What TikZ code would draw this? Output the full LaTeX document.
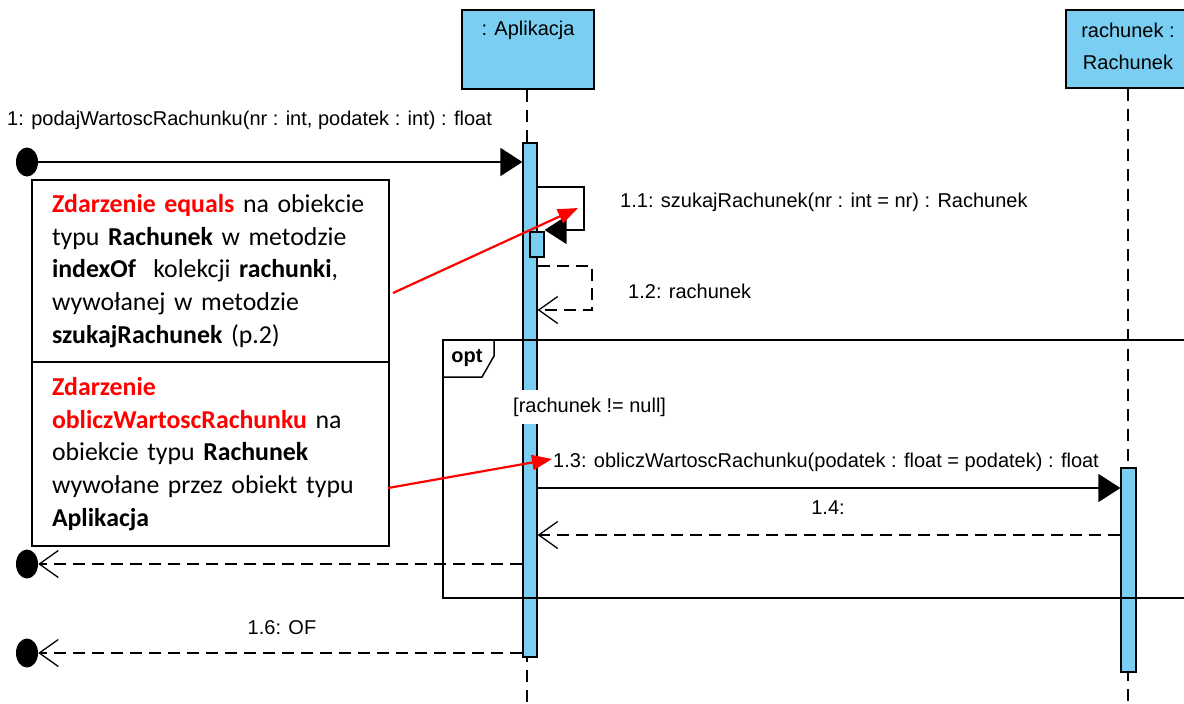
\documentclass[tikz,border=0pt]{standalone}
\usepackage{fontspec}
\setmainfont{Liberation Sans}
\newfontfamily\notefont{Carlito}
\usetikzlibrary{arrows.meta,shapes.geometric}
\definecolor{umlblue}{RGB}{122,206,242}
\definecolor{notered}{RGB}{255,0,0}
\begin{document}
\begin{tikzpicture}[x=1pt,y=-1pt,
  diag/.style={font=\fontsize{20}{24}\selectfont, inner sep=0pt},
  headbox/.style={draw, fill=umlblue, line width=1.5pt, inner sep=0pt},
  actbar/.style={draw, fill=umlblue, line width=1.2pt, inner sep=0pt, minimum width=14pt},
  lifeline/.style={line width=1.3pt, dash pattern=on 12pt off 8pt},
  callmsg/.style={line width=1.5pt, -{Triangle[length=22pt,width=28pt]}},
  retmsg/.style={line width=1.5pt, dash pattern=on 12pt off 7pt, -{Straight Barb[length=19pt,width=27pt,line width=1.3pt]}},
  endpoint/.style={ellipse, fill=black, minimum width=22pt, minimum height=29pt, inner sep=0pt},
  notebox/.style={draw, line width=1.5pt, minimum width=357pt, text width=317pt, align=left, inner xsep=20pt, inner ysep=0pt,
    font=\notefont\fontsize{25.8}{32.6}\selectfont},
  redarrow/.style={draw=notered, line width=2.2pt, -{Triangle[length=20pt,width=15pt]}, color=notered},
  frameline/.style={line width=1.5pt}
]
\useasboundingbox (0,0) rectangle (1184,704);
\clip (0,0) rectangle (1184,704);

% heads
\node (apphead) [headbox, minimum width=132pt, minimum height=79pt] at (528,49.5) {};
\node (apptext) [diag] at (528,30) {: Aplikacja};
\node (rachead) [headbox, minimum width=124pt, minimum height=78pt] at (1128,49) {};
\node (ractext) [diag, align=center, font=\fontsize{20}{32}\selectfont] at (1128,46) {rachunek :\\Rachunek};

% lifelines
\coordinate (append) at (527,704);
\coordinate (racend) at (1128,704);
\draw[lifeline] (apphead.south -| append) -- (append);
\draw[lifeline] (rachead.south -| racend) -- (racend);

% activation bars
\node (appbar) [actbar, minimum height=514pt] at (530,400) {};
\node (nestbar) [actbar, minimum height=25pt] at (537,244.5) {};
\node (racbar) [actbar, minimum width=15pt, minimum height=204pt] at (1128.5,570) {};

% endpoints
\node (c1) [endpoint] at (27,162) {};
\node (c2) [endpoint] at (27,564) {};
\node (c3) [endpoint] at (27,653) {};

% message 1
\draw[callmsg] (c1.east) -- (appbar.west |- c1);
\node (l1) [diag, anchor=west] at (7,120) {1: podajWartoscRachunku(nr : int, podatek : int) : float};

% self call 1.1
\coordinate (s11a) at (584,187);
\coordinate (s11b) at (584,230);
\draw[callmsg] (appbar.east |- s11a) -- (s11a) -- (s11b) -- (nestbar.east |- s11b);
\node (l11) [diag, anchor=west] at (620,202) {1.1: szukajRachunek(nr : int = nr) : Rachunek};

% self return 1.2
\coordinate (s12a) at (592,266);
\coordinate (s12b) at (592,310);
\draw[retmsg] (appbar.east |- s12a) -- (s12a) -- (s12b) -- (appbar.east |- s12b);
\node (l12) [diag, anchor=west] at (628,291) {1.2: rachunek};

% message 1.3
\coordinate (m13) at (800,488);
\draw[callmsg] (appbar.east |- m13) -- (racbar.west |- m13);
\node (l13) [diag, anchor=west] at (553,462) {1.3: obliczWartoscRachunku(podatek : float = podatek) : float};

% return 1.4
\coordinate (m14) at (800,535);
\draw[retmsg] (racbar.west |- m14) -- (appbar.east |- m14);
\node (l14) [diag] at (828,508) {1.4:};

% return 1.5
\draw[retmsg] (appbar.west |- c2) -- (c2.east);

% return 1.6
\draw[retmsg] (appbar.west |- c3) -- (c3.east);
\node (l16) [diag] at (282,628) {1.6: OF};

% opt frame
\draw[frameline] (1200,340) -- (443,340) -- (443,598) -- (1200,598);
\draw[frameline] (443,340) -- (494,340) -- (494,356) -- (482,377) -- (443,377);
\node (optlabel) [diag, font=\fontsize{20}{24}\selectfont\bfseries] at (467,358) {opt};
\node (guard) [diag, fill=white, anchor=west, minimum height=34pt, inner xsep=1pt] at (512,407) {[rachunek != null]};

% notes
\node (note1) [notebox, minimum height=182pt] at (210.5,271) {%
\textcolor{notered}{\textbf{Zdarzenie equals}} na obiekcie\\
typu \textbf{Rachunek} w metodzie\\
\textbf{indexOf}\ \ kolekcji \textbf{rachunki},\\
wywołanej w metodzie\\
\textbf{szukajRachunek} (p.2)};
\node (note2) [notebox, minimum height=184pt] at (210.5,454) {%
\textcolor{notered}{\textbf{Zdarzenie}}\\
\textcolor{notered}{\textbf{obliczWartoscRachunku}} na\\
obiekcie typu \textbf{Rachunek}\\
wywołane przez obiekt typu\\
\textbf{Aplikacja}};

% red pointers
\coordinate (r1s) at (393,293);
\coordinate (r1e) at (578,208);
\draw[redarrow] (r1s) -- (r1e);
\coordinate (r2s) at (388,488);
\coordinate (r2e) at (552,459);
\draw[redarrow] (r2s) -- (r2e);
\end{tikzpicture}
\end{document}
